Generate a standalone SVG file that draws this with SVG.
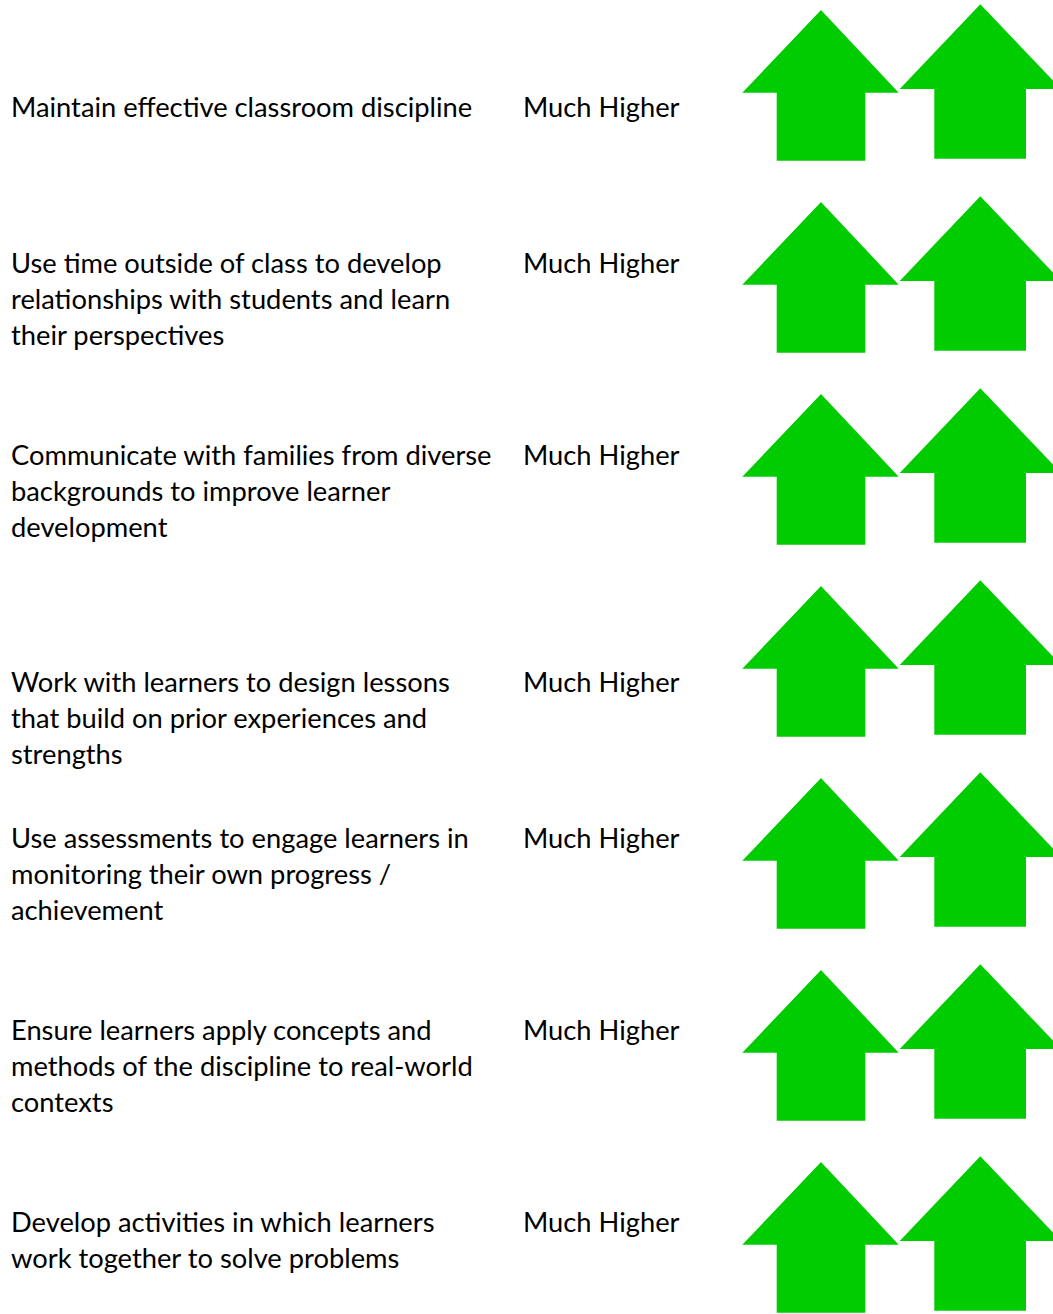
<svg xmlns="http://www.w3.org/2000/svg" xmlns:xlink="http://www.w3.org/1999/xlink" width="1053" height="1314" viewBox="0 0 1053 1314">
<style>
text{font-family:Lato,"Liberation Sans",sans-serif;font-size:27.3px;fill:#000}
.arr{fill:#00CC00}
</style>
<defs>
<g id="pair">
<polygon class="arr" points="821,10 898.7,92.7 865.3,92.7 865.3,160.7 776.7,160.7 776.7,92.7 742.3,92.7"/>
<polygon class="arr" points="980.3,4.3 1061,89 1026,89 1026,158.7 934.3,158.7 934.3,89 899.7,89"/>
</g>
</defs>
<rect width="1053" height="1314" fill="#fff"/>
<g id="row1"><text x="11" y="117">Maintain effective classroom discipline</text><text x="523" y="117">Much Higher</text><use xlink:href="#pair"/></g>
<g id="row2" transform="translate(0,192)"><text x="11" y="81">Use time outside of class to develop</text><text x="11" y="117">relationships with students and learn</text><text x="11" y="153">their perspectives</text><text x="523" y="81">Much Higher</text><use xlink:href="#pair"/></g>
<g id="row3" transform="translate(0,384)"><text x="11" y="81">Communicate with families from diverse</text><text x="11" y="117">backgrounds to improve learner</text><text x="11" y="153">development</text><text x="523" y="81">Much Higher</text><use xlink:href="#pair"/></g>
<g id="row4" transform="translate(0,576)"><text x="11" y="116">Work with learners to design lessons</text><text x="11" y="152">that build on prior experiences and</text><text x="11" y="188">strengths</text><text x="523" y="116">Much Higher</text><use xlink:href="#pair"/></g>
<g id="row5" transform="translate(0,768)"><text x="11" y="80">Use assessments to engage learners in</text><text x="11" y="116">monitoring their own progress /</text><text x="11" y="152">achievement</text><text x="523" y="80">Much Higher</text><use xlink:href="#pair"/></g>
<g id="row6" transform="translate(0,960)"><text x="11" y="80">Ensure learners apply concepts and</text><text x="11" y="116">methods of the discipline to real-world</text><text x="11" y="152">contexts</text><text x="523" y="80">Much Higher</text><use xlink:href="#pair"/></g>
<g id="row7" transform="translate(0,1152)"><text x="11" y="80">Develop activities in which learners</text><text x="11" y="116">work together to solve problems</text><text x="523" y="80">Much Higher</text><use xlink:href="#pair"/></g>
</svg>
